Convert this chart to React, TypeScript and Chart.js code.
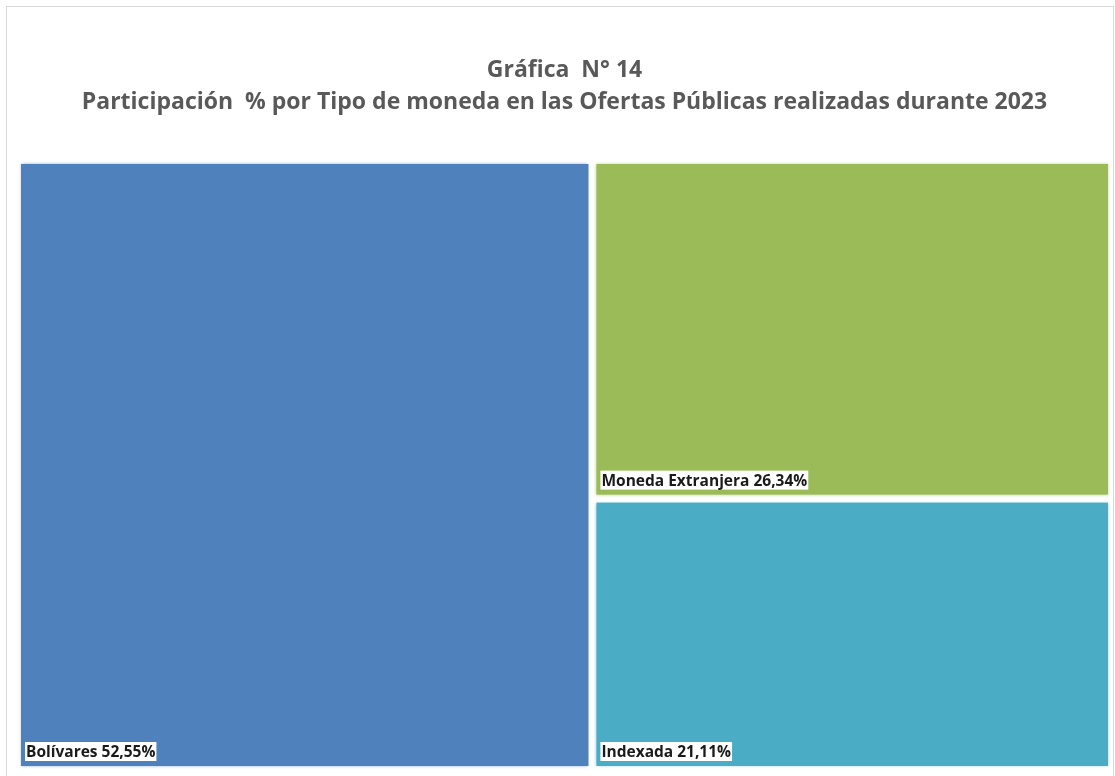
import React, { useEffect, useRef } from "react";
import { Chart, registerables } from "chart.js";

Chart.register(...registerables);

const categories = ["Bolívares", "Moneda Extranjera", "Indexada"];
const values = [52.55, 26.34, 21.11];
const valueLabels = ["52,55%", "26,34%", "21,11%"];
const colors = ["#4F81BD", "#9BBB59", "#4BACC6"];
const titleLines = [
  "Gráfica  N° 14",
  "Participación  % por Tipo de moneda en las Ofertas Públicas realizadas durante 2023",
];

type Rect = { x0: number; y0: number; x1: number; y1: number; i: number };

function layoutTreemap(vals: number[], w: number, h: number): Rect[] {
  const order = vals.map((v, i) => i).sort((a, b) => vals[b] - vals[a]);
  const rects: Rect[] = [];
  let x0 = 0, y0 = 0, x1 = 100, y1 = 100;
  let remaining = vals.reduce((a, b) => a + b, 0);
  order.forEach((idx, k) => {
    const v = vals[idx];
    if (k === order.length - 1) {
      rects.push({ x0, y0, x1, y1, i: idx });
      return;
    }
    const pw = ((x1 - x0) / 100) * w;
    const ph = ((y1 - y0) / 100) * h;
    const f = v / remaining;
    if (pw >= ph) {
      const xs = x0 + (x1 - x0) * f;
      rects.push({ x0, y0, x1: xs, y1, i: idx });
      x0 = xs;
    } else {
      const ys = y1 - (y1 - y0) * f;
      rects.push({ x0, y0: ys, x1, y1, i: idx });
      y1 = ys;
    }
    remaining -= v;
  });
  return rects;
}

const treemapPlugin = {
  id: "treemapCells",
  afterDatasetsDraw(chart: any) {
    const { ctx, chartArea, scales } = chart;
    const xs = scales.x;
    const ys = scales.y;
    const rects = layoutTreemap(values, chartArea.width, chartArea.height);
    const gap = 4;
    ctx.save();
    rects.forEach((r) => {
      const px0 = xs.getPixelForValue(r.x0) + gap;
      const px1 = xs.getPixelForValue(r.x1) - gap;
      const py0 = ys.getPixelForValue(r.y1) + gap;
      const py1 = ys.getPixelForValue(r.y0) - gap;
      ctx.save();
      ctx.shadowColor = colors[r.i] + "99";
      ctx.shadowBlur = 3;
      ctx.fillStyle = colors[r.i];
      ctx.fillRect(px0, py0, px1 - px0, py1 - py0);
      ctx.restore();

      const label = categories[r.i] + " " + valueLabels[r.i];
      ctx.font = "bold 15.5px 'Open Sans'";
      const tw = ctx.measureText(label).width;
      const bx = px0 + 4;
      const bh = 19;
      const by = py1 - 5 - bh;
      ctx.fillStyle = "#FFFFFF";
      ctx.fillRect(bx, by, tw + 2, bh);
      ctx.fillStyle = "#1A1A1A";
      ctx.textBaseline = "middle";
      ctx.textAlign = "left";
      ctx.fillText(label, bx + 1, by + bh / 2 + 1);
    });
    ctx.restore();
  },
};

export default function App() {
  const ref = useRef<HTMLCanvasElement>(null);
  useEffect(() => {
    if (!ref.current) return;
    const chart = new Chart(ref.current, {
      type: "scatter",
      data: {
        datasets: [
          {
            label: "treemap",
            data: categories.map((c, i) => ({ x: 0, y: values[i] })),
            pointRadius: 0,
            showLine: false,
          },
        ],
      },
      options: {
        animation: false,
        responsive: false,
        layout: { padding: { left: 17, right: 3, top: 0, bottom: 6 } },
        scales: {
          x: { type: "linear", min: 0, max: 100, display: false },
          y: { type: "linear", min: 0, max: 100, display: false },
        },
        plugins: {
          legend: { display: false },
          tooltip: { enabled: false },
          title: {
            display: true,
            text: titleLines,
            color: "#595959",
            font: { family: "'Open Sans'", size: 23, weight: "bold", lineHeight: 32 / 23 },
            padding: { top: 54, bottom: 42 },
          },
        },
      },
      plugins: [treemapPlugin],
    });
    return () => chart.destroy();
  }, []);

  return (
    <div style={{ position: "fixed", left: 0, top: 0, width: 1115, height: 776, background: "#fff", overflow: "hidden" }}>
      <div
        style={{
          position: "absolute",
          left: 6,
          top: 6,
          width: 1106,
          height: 800,
          border: "1px solid #D9D9D9",
        }}
      />
      <canvas ref={ref} width={1115} height={776} style={{ position: "absolute", left: 0, top: 0, width: 1115, height: 776 }} />
    </div>
  );
}
